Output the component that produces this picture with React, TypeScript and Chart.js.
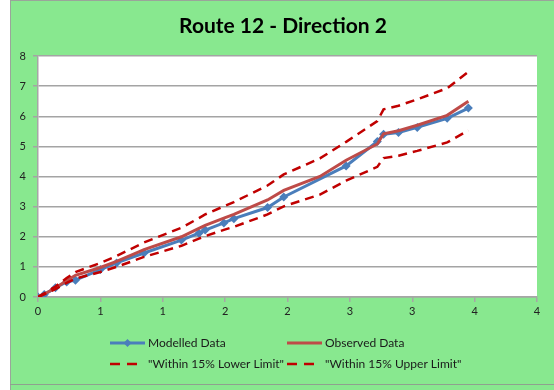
import React, { useEffect, useRef } from "react";
import { Chart, registerables } from "chart.js";

Chart.register(...registerables);

// ---- Data ----
const titleText = "Route 12 - Direction 2";

const seriesNames = [
  "Modelled Data",
  "Observed Data",
  "\"Within 15% Lower Limit\"",
  "\"Within 15% Upper Limit\"",
];

const distance = [0, 0.05, 0.14, 0.23, 0.3, 0.5, 0.63, 0.85, 1.15, 1.29, 1.34, 1.49, 1.57, 1.84, 1.97, 2.47, 2.72, 2.77, 2.89, 3.04, 3.28, 3.45];
const modelled = [0, 0.08, 0.31, 0.5, 0.56, 0.91, 1.13, 1.46, 1.89, 2.12, 2.22, 2.46, 2.6, 2.97, 3.32, 4.35, 5.16, 5.4, 5.46, 5.63, 5.93, 6.27];

const observedDistance = [0, 0.05, 0.14, 0.23, 0.3, 0.5, 0.63, 0.85, 1.15, 1.29, 1.34, 1.49, 1.57, 1.84, 1.97, 2.26, 2.47, 2.72, 2.77, 2.89, 3.04, 3.28, 3.45];
const observed = [0, 0.1, 0.3, 0.55, 0.72, 0.98, 1.18, 1.57, 2.0, 2.28, 2.38, 2.62, 2.74, 3.22, 3.54, 4.0, 4.54, 5.08, 5.42, 5.52, 5.7, 6.03, 6.5];

const lowerLimit = [0, 0.09, 0.26, 0.47, 0.61, 0.83, 1.0, 1.33, 1.7, 1.94, 2.02, 2.23, 2.33, 2.74, 3.01, 3.4, 3.86, 4.32, 4.61, 4.69, 4.85, 5.13, 5.53];
const upperLimit = [0, 0.12, 0.35, 0.63, 0.83, 1.13, 1.36, 1.81, 2.3, 2.62, 2.74, 3.01, 3.15, 3.7, 4.07, 4.6, 5.15, 5.84, 6.23, 6.35, 6.56, 6.93, 7.48];

const xMin = 0;
const xMax = 4;
const xStep = 0.5;
const yMin = 0;
const yMax = 8;
const yStep = 1;

const FONT = "Lato, 'Open Sans', 'Liberation Sans', sans-serif";
const BLUE = "#4A7EBB";
const RED = "#BE4B48";
const DARKRED = "#C00000";

const toPoints = (xs: number[], ys: number[]) => xs.map((x, i) => ({ x, y: ys[i] }));

const decorPlugin = {
  id: "decor",
  beforeDraw(chart: any) {
    const { ctx, chartArea } = chart;
    ctx.save();
    ctx.fillStyle = "#ffffff";
    ctx.fillRect(chartArea.left, chartArea.top, chartArea.right - chartArea.left, chartArea.bottom - chartArea.top);
    ctx.restore();
  },
  afterDraw(chart: any) {
    const { ctx } = chart;
    ctx.save();
    // title
    ctx.fillStyle = "#000000";
    ctx.font = `bold 21px ${FONT}`;
    ctx.textAlign = "center";
    ctx.textBaseline = "middle";
    ctx.fillText(titleText, 283, 26);

    // legend (2 x 2 grid, like the reference)
    const slots = [
      { x: 110, y: 343 },
      { x: 287, y: 343 },
      { x: 110, y: 364 },
      { x: 287, y: 364 },
    ];
    chart.data.datasets.forEach((ds: any, i: number) => {
      const s = slots[i];
      const sw = 35;
      const dashed = ds.borderDash && ds.borderDash.length;
      ctx.save();
      ctx.strokeStyle = ds.borderColor;
      ctx.lineWidth = ds.borderWidth;
      if (dashed) ctx.setLineDash([10, 7]);
      ctx.beginPath();
      ctx.moveTo(s.x, s.y);
      ctx.lineTo(s.x + (dashed ? 27 : sw), s.y);
      ctx.stroke();
      ctx.setLineDash([]);
      if (ds.pointRadius > 0) {
        const cx = s.x + sw / 2;
        const r = 4;
        ctx.fillStyle = ds.borderColor;
        ctx.beginPath();
        ctx.moveTo(cx, s.y - r);
        ctx.lineTo(cx + r, s.y);
        ctx.lineTo(cx, s.y + r);
        ctx.lineTo(cx - r, s.y);
        ctx.closePath();
        ctx.fill();
      }
      ctx.restore();
      ctx.fillStyle = "#1a1a1a";
      ctx.font = `12px ${FONT}`;
      ctx.textAlign = "left";
      ctx.textBaseline = "middle";
      ctx.fillText(ds.label, s.x + 38, s.y);
    });
    ctx.restore();
  },
};

export default function App() {
  const canvasRef = useRef<HTMLCanvasElement | null>(null);

  useEffect(() => {
    const canvas = canvasRef.current;
    if (!canvas) return;
    const chart = new Chart(canvas, {
      type: "scatter",
      data: {
        datasets: [
          {
            label: seriesNames[0],
            data: toPoints(distance, modelled),
            showLine: true,
            borderColor: BLUE,
            backgroundColor: BLUE,
            borderWidth: 3,
            pointStyle: "rectRot",
            pointRadius: 4.5,
            pointBackgroundColor: BLUE,
            pointBorderColor: BLUE,
            pointBorderWidth: 0,
            order: 4,
          },
          {
            label: seriesNames[1],
            data: toPoints(observedDistance, observed),
            showLine: true,
            borderColor: RED,
            backgroundColor: RED,
            borderWidth: 3,
            pointRadius: 0,
            order: 3,
          },
          {
            label: seriesNames[2],
            data: toPoints(observedDistance, lowerLimit),
            showLine: true,
            borderColor: DARKRED,
            backgroundColor: DARKRED,
            borderWidth: 2.5,
            borderDash: [9, 6],
            pointRadius: 0,
            order: 2,
          },
          {
            label: seriesNames[3],
            data: toPoints(observedDistance, upperLimit),
            showLine: true,
            borderColor: DARKRED,
            backgroundColor: DARKRED,
            borderWidth: 2.5,
            borderDash: [9, 6],
            pointRadius: 0,
            order: 1,
          },
        ],
      } as any,
      options: {
        responsive: false,
        animation: false,
        layout: { padding: { left: 0, right: 17, top: 56, bottom: 68 } },
        plugins: {
          legend: { display: false },
          title: { display: false },
          tooltip: { enabled: false },
        },
        scales: {
          x: {
            type: "linear",
            min: xMin,
            max: xMax,
            grid: {
              drawOnChartArea: false,
              drawTicks: true,
              tickLength: 5,
              color: "#a6a6a6",
              lineWidth: 1.5,
            },
            border: { display: true, color: "#a6a6a6", width: 1.5 },
            ticks: {
              stepSize: xStep,
              autoSkip: false,
              maxRotation: 0,
              padding: 3,
              color: "#222222",
              font: { family: FONT, size: 11 },
              callback: (v: any) => String(Math.round(Number(v))),
            },
            afterFit: (scale: any) => {
              scale.height = 25;
            },
          },
          y: {
            type: "linear",
            min: yMin,
            max: yMax,
            grid: {
              drawOnChartArea: true,
              drawTicks: true,
              tickLength: 5,
              color: "#a4a4a4",
              lineWidth: 1.5,
            },
            border: { display: true, color: "#a6a6a6", width: 1.5 },
            ticks: {
              stepSize: yStep,
              padding: 7,
              color: "#222222",
              font: { family: FONT, size: 11 },
            },
            afterFit: (scale: any) => {
              scale.width = 38;
            },
          },
        },
      } as any,
      plugins: [decorPlugin],
    });
    return () => chart.destroy();
  }, []);

  return (
    <div style={{ position: "fixed", left: 0, top: 0, width: 554, height: 390, background: "#ffffff", overflow: "hidden" }}>
      <div
        style={{
          position: "absolute",
          left: 10,
          top: 0,
          width: 544,
          height: 390,
          background: "#88E88F",
          borderLeft: "1px solid #9aa59a",
          borderTop: "1px solid #9aa59a",
          boxSizing: "border-box",
        }}
      />
      <div style={{ position: "absolute", left: 10, top: 384, width: 544, height: 1, background: "#8fa08f" }} />
      <canvas ref={canvasRef} width={554} height={390} style={{ position: "absolute", left: 0, top: 0, width: 554, height: 390 }} />
    </div>
  );
}
